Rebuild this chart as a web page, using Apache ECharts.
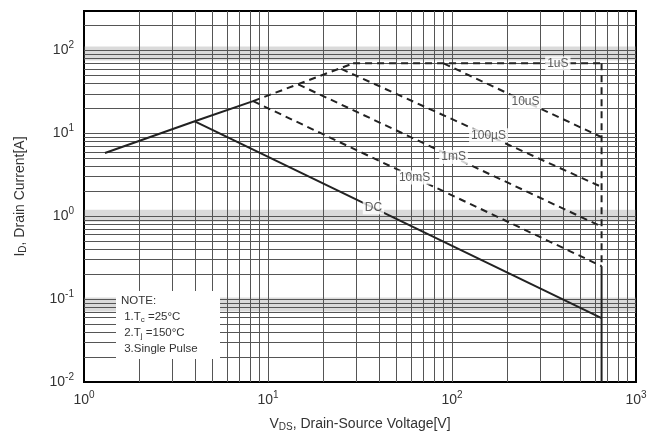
<!DOCTYPE html>
<html>
<head>
<meta charset="utf-8">
<script src="https://cdn.jsdelivr.net/npm/echarts@6/dist/echarts.min.js"></script>
<style>
  html, body { margin: 0; padding: 0; background: #ffffff; }
  #chart { width: 650px; height: 437px; }
</style>
</head>
<body>
<div id="chart"></div>
<script>
// Safe operating area curves, points as [V_DS (V), I_D (A)]
const riseSolid   = [[1.3, 5.8], [4, 14], [8.3, 24.5]];
const riseDashed  = [[8.3, 24.5], [29, 70]];
const pulse1us    = [[29, 70], [650, 70]];
const pulse10us   = [[90, 70], [650, 9]];
const pulse100us  = [[25, 60], [650, 2.26]];
const pulse1ms    = [[14.6, 39], [650, 0.75]];
const pulse10ms   = [[8.3, 24.5], [650, 0.25]];
const dcLine      = [[4, 14], [650, 0.059]];
const vdsDashed   = [[650, 70], [650, 0.25]];
const vdsSolid    = [[650, 0.25], [650, 0.01]];

// Curve labels and the point on each curve where they sit
const curveLabels = ['1uS', '10uS', '100µS', '1mS', '10mS', 'DC'];
const labelPoints = [[376, 70], [251, 24], [158, 9.5], [102, 5.2], [62.6, 2.94], [37.4, 1.28]];

// Axis ranges and grid values
const xRange = [1, 1000];
const yRange = [0.01, 300];
const xGrid = [2,3,4,5,6,7,8,9,10,20,30,40,50,60,70,80,90,100,200,300,400,500,600,700,800,900];
const yGrid = [0.02,0.03,0.04,0.05,0.06,0.07,0.08,0.09,0.1,0.2,0.3,0.4,0.5,0.6,0.7,0.8,0.9,1,
               2,3,4,5,6,7,8,9,10,20,30,40,50,60,70,80,90,100,200];
// Faint grey bands across the grid
const yBands = [[76, 112], [0.86, 1.2], [0.071, 0.105]];

const noteLines = ['NOTE:', ' 1.T{s|c} =25°C', ' 2.T{s|j} =150°C', ' 3.Single Pulse'];

const chart = echarts.init(document.getElementById('chart'), null, { renderer: 'canvas' });
const FONT = '"Liberation Sans", Arial, sans-serif';
const INK = '#222';

function powerLabel(v) {
  const e = Math.round(Math.log10(v));
  return '{b|10}{s|' + e + '}';
}
const tickRich = {
  b: { fontSize: 14, fontFamily: FONT, color: '#333' },
  s: { fontSize: 10, fontFamily: FONT, color: '#333', padding: [0, 0, 10, 0] }
};

function curve(data, dashed) {
  return {
    type: 'line', data: data, symbol: 'none', silent: true, z: 5,
    lineStyle: { color: INK, width: 2, type: dashed ? [7, 5] : 'solid' }
  };
}

chart.setOption({
  animation: false,
  backgroundColor: '#ffffff',
  grid: { left: 84, right: 14, top: 11, bottom: 54, show: true, borderColor: '#000', borderWidth: 2, backgroundColor: '#fff' },
  xAxis: {
    type: 'log', logBase: 10, min: xRange[0], max: xRange[1], interval: 1,
    name: 'V{s|DS}, Drain-Source Voltage[V]', nameLocation: 'middle', nameGap: 34,
    nameTextStyle: { fontSize: 14, fontFamily: FONT, color: '#333',
      rich: { s: { fontSize: 10, fontFamily: FONT, color: '#333', padding: [6, 0, 0, 0] } } },
    axisLine: { show: false },
    axisTick: { show: false },
    splitLine: { show: false },
    axisLabel: { formatter: powerLabel, rich: tickRich, margin: 8 }
  },
  yAxis: {
    type: 'log', logBase: 10, min: yRange[0], max: yRange[1], interval: 1,
    name: 'I{s|D}, Drain Current[A]', nameLocation: 'middle', nameGap: 56,
    nameTextStyle: { fontSize: 14, fontFamily: FONT, color: '#333',
      rich: { s: { fontSize: 10, fontFamily: FONT, color: '#333', padding: [6, 0, 0, 0] } } },
    axisLine: { show: false },
    axisTick: { show: false },
    splitLine: { show: false },
    axisLabel: { formatter: powerLabel, rich: tickRich, margin: 10, showMaxLabel: false }
  },
  series: [
    {
      // grid lines and grey bands
      type: 'line', data: [], silent: true, z: 1,
      markArea: {
        silent: true,
        itemStyle: { color: 'rgba(150,150,150,0.35)' },
        data: yBands.map(b => [{ yAxis: b[0] }, { yAxis: b[1] }])
      },
      markLine: {
        silent: true, symbol: 'none', animation: false,
        label: { show: false },
        lineStyle: { color: '#555', width: 1, type: 'solid' },
        data: xGrid.map(v => ({ xAxis: v })).concat(yGrid.map(v => ({ yAxis: v })))
      }
    },
    curve(riseSolid, false),
    curve(riseDashed, true),
    curve(pulse1us, true),
    curve(pulse10us, true),
    curve(pulse100us, true),
    curve(pulse1ms, true),
    curve(pulse10ms, true),
    curve(dcLine, false),
    curve(vdsDashed, true),
    curve(vdsSolid, false),
    {
      type: 'scatter', symbolSize: 0, silent: true, z: 10,
      data: labelPoints.map((p, i) => ({ value: p, name: curveLabels[i] })),
      label: {
        show: true, position: 'inside', formatter: p => p.name,
        fontSize: 12, fontFamily: FONT, color: '#333',
        backgroundColor: '#fff', padding: [1, 2]
      }
    }
  ],
  graphic: [
    {
      type: 'rect', z: 20, shape: { x: 116, y: 291, width: 104, height: 68 },
      style: { fill: '#fff' }
    },
    {
      type: 'text', z: 21, left: 121, top: 293,
      style: {
        text: noteLines.join('\n'), fontSize: 11.5, fontFamily: FONT, fill: '#333', lineHeight: 16,
        rich: { s: { fontSize: 8, fontFamily: FONT, fill: '#333', padding: [5, 0, 0, 0] } }
      }
    }
  ]
});
</script>
</body>
</html>
